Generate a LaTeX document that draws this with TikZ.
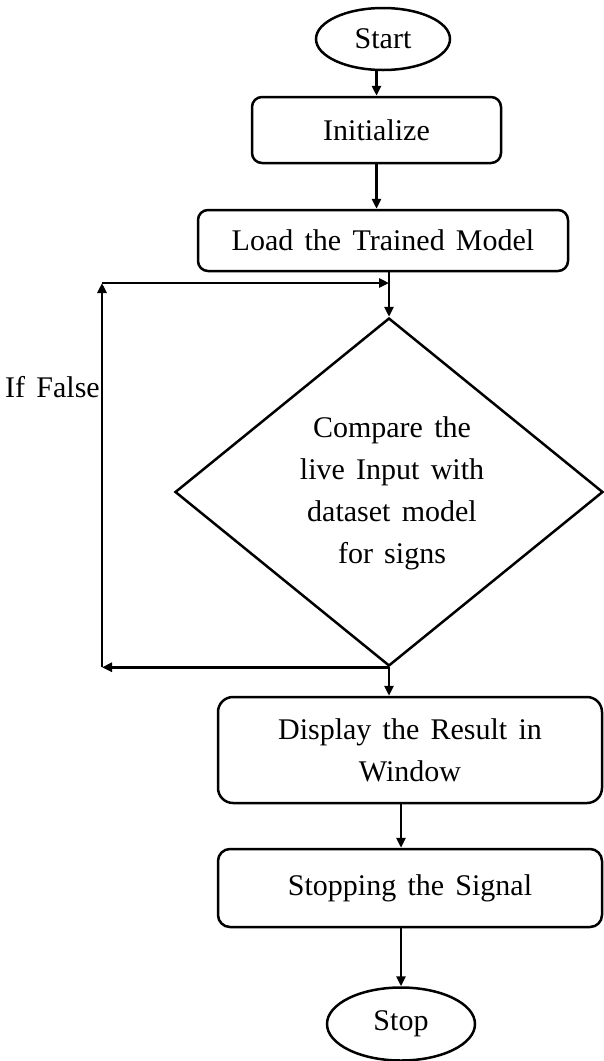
\documentclass[tikz,border=0pt]{standalone}
\usepackage{fontspec}
\setmainfont{Liberation Serif}[WordSpace=1.5]
\usetikzlibrary{arrows.meta,shapes.geometric,calc}

\tikzset{
  lw/.style={line width=2.5pt},
  txt/.style={font=\fontsize{30}{42}\selectfont, align=center},
  terminal/.style={lw, txt, draw, ellipse, inner sep=0pt},
  stepbox/.style={lw, txt, draw, rounded corners=10pt, inner sep=0pt},
  decision/.style={lw, draw, diamond, inner sep=0pt},
  arr/.style={lw, -{Triangle[length=10pt,width=9pt]}},
}

\begin{document}
\begin{tikzpicture}[x=1pt, y=-1pt]
  \useasboundingbox (0,0) rectangle (603,1061);

  % terminals and process boxes
  \node[terminal, minimum width=134pt, minimum height=62pt] (start) at (383,39) {Start};
  \node[stepbox, minimum width=249pt, minimum height=66pt] (init) at (376.5,130) {Initialize};
  \node[stepbox, minimum width=370pt, minimum height=61pt] (load) at (383,240.5) {Load the Trained Model};

  % decision
  \node[decision, minimum width=428pt, minimum height=348pt] (dia) at (389,492) {};
  \node[txt] (dtext) at (392,493) {Compare the\\live Input with\\dataset model\\for signs};

  \node[stepbox, rounded corners=15pt, minimum width=384pt, minimum height=106pt] (disp) at (410,750) {Display the Result in\\Window};
  \node[stepbox, rounded corners=12pt, minimum width=384pt, minimum height=78pt] (sig) at (410,888) {Stopping the Signal};
  \node[terminal, minimum width=148pt, minimum height=73pt] (stop) at (401,1024) {Stop};

  % side label of the loop
  \node[txt, anchor=east, inner sep=0pt] (iffalse) at (100,387) {If False};

  % main flow
  \draw[arr] (start.south -| init.north) -- (init.north);
  \draw[arr] (init.south) -- (init.south |- load.north);
  \draw[arr] (dia.north |- load.south) -- (dia.north);
  \draw[arr] (dia.south) -- (dia.south |- disp.north);
  \draw[arr] (stop.north |- disp.south) -- (stop.north |- sig.north);
  \draw[arr] (stop.north |- sig.south) -- (stop.north);

  % return path when the comparison fails
  \coordinate (lt) at (102,283);
  \coordinate (lb) at (dia.south -| lt);
  \coordinate (jn) at (dia.north |- lt);
  \draw[arr] (dia.south) -- (lb);
  \draw[arr] (lb) -- (lt);
  \draw[arr] (lt) -- (jn);
\end{tikzpicture}
\end{document}
